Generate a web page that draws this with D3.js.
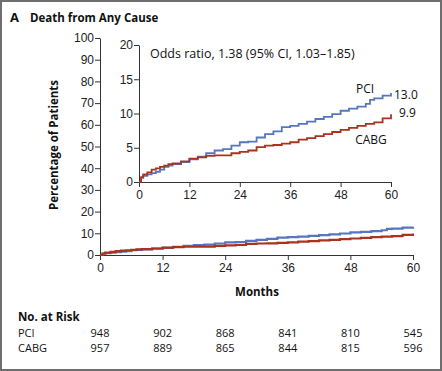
<!DOCTYPE html>
<html>
<head>
<meta charset="utf-8">
<script src="https://cdn.jsdelivr.net/npm/d3@7"></script>
<style>
  body { margin: 0; background: #fff; }
  svg { display: block; font-family: "Open Sans", sans-serif; }
  .tick text { font-size: 12px; fill: #222; }
  .domain, .tick line { stroke: #333; }
</style>
</head>
<body>
<div id="chart"></div>
<script>
// months at which the curve values were read
var pciMonths  = [0,0.5,1,2,3,4,5,6,7,8,10,12,14,16,18,20,22,24,26,28,30,32,34,36,38,40,42,44,46,48,50,52,54,55,56,58,60];
var pciValues  = [0,0.6,0.9,1.1,1.3,1.5,1.8,2.2,2.4,2.6,2.9,3.3,3.7,4.2,4.6,4.8,5.3,5.8,5.9,6.5,7.0,7.4,8.0,8.2,8.5,8.8,9.2,9.5,9.9,10.4,10.7,11.0,11.4,12.0,12.2,12.6,13.0];
var cabgMonths = [0,0.5,1,2,3,4,5,6,7,8,10,12,14,16,18,20,22,24,26,28,30,32,34,36,38,40,42,44,46,48,50,52,54,56,58,60];
var cabgValues = [0,0.7,1.1,1.4,1.8,2.0,2.2,2.4,2.6,2.7,3.0,3.4,3.6,3.8,3.9,3.9,4.2,4.4,4.6,5.1,5.3,5.4,5.6,5.8,6.2,6.4,6.7,7.0,7.3,7.6,7.9,8.2,8.5,8.7,9.3,9.9];

var xTicks = [0,12,24,36,48,60];
var mainYTicks = [0,10,20,30,40,50,60,70,80,90,100];
var insetYTicks = [0,5,10,15,20];

var riskGroups = ["PCI", "CABG"];
var pciRisk  = [948, 902, 868, 841, 810, 545];
var cabgRisk = [957, 889, 865, 844, 815, 596];

var pciColor = "#5677bd";
var cabgColor = "#a8341f";

var width = 442, height = 371;

var svg = d3.select("#chart").append("svg")
  .attr("width", width)
  .attr("height", height);

// outer frame
svg.append("rect")
  .attr("x", 1).attr("y", 1)
  .attr("width", width - 2).attr("height", height - 2)
  .attr("fill", "none")
  .attr("stroke", "#6e6e6e")
  .attr("stroke-width", 2);

// title
svg.append("text")
  .attr("x", 10).attr("y", 22)
  .attr("font-size", 13).attr("font-weight", "bold").attr("fill", "#111")
  .text("A");
svg.append("text")
  .attr("x", 30).attr("y", 22)
  .attr("font-size", 11.5).attr("font-weight", "bold").attr("fill", "#111")
  .text("Death from Any Cause");

var pci = pciMonths.map((m, i) => ({m: m, v: pciValues[i]}));
var cabg = cabgMonths.map((m, i) => ({m: m, v: cabgValues[i]}));

// main panel
var x = d3.scaleLinear().domain([0, 60]).range([100, 413]);
var y = d3.scaleLinear().domain([0, 100]).range([255, 38]);

svg.append("g")
  .attr("transform", "translate(0,255)")
  .call(d3.axisBottom(x).tickValues(xTicks).tickSize(5).tickSizeOuter(0).tickPadding(3));
svg.append("g")
  .attr("transform", "translate(100,0)")
  .call(d3.axisLeft(y).tickValues(mainYTicks).tickSize(5).tickSizeOuter(0).tickPadding(1));

var mainLine = d3.line().x(d => x(d.m)).y(d => y(d.v)).curve(d3.curveStepAfter);
svg.append("path").datum(pci)
  .attr("d", mainLine).attr("fill", "none")
  .attr("stroke", pciColor).attr("stroke-width", 2.2);
svg.append("path").datum(cabg)
  .attr("d", mainLine).attr("fill", "none")
  .attr("stroke", cabgColor).attr("stroke-width", 2.2);

svg.append("text")
  .attr("transform", "translate(58,145) rotate(-90)")
  .attr("text-anchor", "middle")
  .attr("font-size", 11.5).attr("font-weight", "bold").attr("fill", "#111")
  .text("Percentage of Patients");

svg.append("text")
  .attr("x", 257).attr("y", 296)
  .attr("text-anchor", "middle")
  .attr("font-size", 11.5).attr("font-weight", "bold").attr("fill", "#111")
  .text("Months");

// inset panel
var xi = d3.scaleLinear().domain([0, 60]).range([139, 391]);
var yi = d3.scaleLinear().domain([0, 20]).range([182, 45]);

svg.append("g")
  .attr("transform", "translate(0,182)")
  .call(d3.axisBottom(xi).tickValues(xTicks).tickSize(5).tickSizeOuter(0).tickPadding(3));
svg.append("g")
  .attr("transform", "translate(139,0)")
  .call(d3.axisLeft(yi).tickValues(insetYTicks).tickSize(5).tickSizeOuter(0).tickPadding(1));

var insetLine = d3.line().x(d => xi(d.m)).y(d => yi(d.v)).curve(d3.curveStepAfter);
svg.append("path").datum(pci)
  .attr("d", insetLine).attr("fill", "none")
  .attr("stroke", pciColor).attr("stroke-width", 1.8);
svg.append("path").datum(cabg)
  .attr("d", insetLine).attr("fill", "none")
  .attr("stroke", cabgColor).attr("stroke-width", 1.8);

svg.append("text")
  .attr("x", 150).attr("y", 58)
  .attr("font-size", 12.5).attr("fill", "#111")
  .text("Odds ratio, 1.38 (95% CI, 1.03\u20131.85)");

var lastPci = pci[pci.length - 1], lastCabg = cabg[cabg.length - 1];
svg.append("text")
  .attr("x", xi(lastPci.m) + 3).attr("y", yi(lastPci.v) + 6)
  .attr("font-size", 12).attr("fill", "#111")
  .text(lastPci.v.toFixed(1));
svg.append("text")
  .attr("x", xi(lastCabg.m) + 8).attr("y", yi(lastCabg.v) + 3)
  .attr("font-size", 12).attr("fill", "#111")
  .text(lastCabg.v.toFixed(1));
svg.append("text")
  .attr("x", 365).attr("y", 93)
  .attr("text-anchor", "middle")
  .attr("font-size", 12).attr("fill", "#111")
  .text("PCI");
svg.append("text")
  .attr("x", 371).attr("y", 144)
  .attr("text-anchor", "middle")
  .attr("font-size", 12).attr("fill", "#111")
  .text("CABG");

// number at risk
svg.append("text")
  .attr("x", 18).attr("y", 321)
  .attr("font-size", 11.5).attr("font-weight", "bold").attr("fill", "#111")
  .text("No. at Risk");

var riskRows = [pciRisk, cabgRisk];
riskRows.forEach(function(row, r) {
  var yy = 337 + r * 15;
  svg.append("text")
    .attr("x", 18).attr("y", yy)
    .attr("font-size", 11).attr("fill", "#111")
    .text(riskGroups[r]);
  svg.selectAll(null)
    .data(row)
    .enter().append("text")
    .attr("x", (d, i) => x(xTicks[i]))
    .attr("y", yy)
    .attr("text-anchor", "middle")
    .attr("font-size", 11).attr("fill", "#111")
    .text(d => d);
});
</script>
</body>
</html>
